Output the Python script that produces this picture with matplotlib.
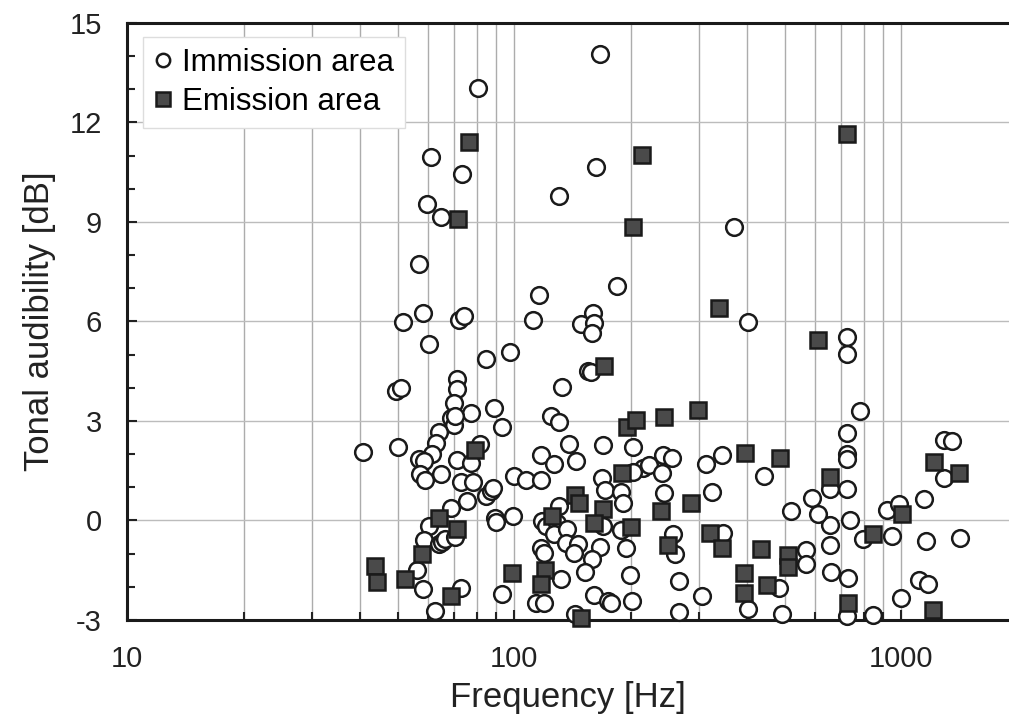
import matplotlib.pyplot as plt
from matplotlib.ticker import FixedLocator, MultipleLocator, NullFormatter

plt.rcParams["font.family"] = ["Liberation Sans", "DejaVu Sans"]
plt.rcParams["axes.unicode_minus"] = False

# Immission area (open circles)
imm_freq = [80.8, 61.1, 73.5, 59.6, 64.7, 56.7, 58.2, 51.7, 72.0, 74.2, 60.2, 84.5, 97.5,
            49.4, 50.9, 71.2, 71.2, 69.9, 77.2, 88.8, 92.9, 68.6, 69.9, 70.5, 63.9, 63.0,
            81.6, 40.6, 50.1, 61.2, 56.7, 58.4, 71.4, 77.2, 57.2, 58.9, 64.9, 72.8, 78.5,
            84.5, 87.1, 88.3, 100, 75.7, 68.6, 89.3, 89.6, 99.1, 60.2, 58.4, 63.9, 65.1,
            66.5, 70.5, 56.1, 58.1, 72.8, 62.4, 93,
            166.7, 162.4, 130.8, 184, 116.1, 160.2, 112.2, 148.9, 161.2, 159, 155, 158,
            133.4, 124.5, 130.3, 138.8, 170.1, 202.5, 117.3, 126.9, 145, 242.3, 256.2,
            215, 222.8, 240.9, 202.5, 168.7, 172.1, 189, 190.9, 107.2, 117.3, 244.7,
            130.8, 118.4, 120.8, 129.5, 126.9, 137.4, 136.1, 145.9, 143, 169.3, 189,
            257.7, 261, 167.1, 194.7, 117.3, 119.3, 159, 132, 152.8, 199.3, 267.6, 113.8,
            119.3, 160.6, 174.5, 178.1, 201.5, 267.6, 143.9,
            369.8, 402, 723, 723, 783, 723, 723, 725, 723, 738, 661, 730, 723, 844, 998,
            1115, 1177, 1288, 1352, 1293, 1149, 1422, 1161, 918, 988, 950, 799, 655, 569,
            569, 655, 655, 590, 610, 521, 442, 314, 344, 325, 346, 485, 402, 493, 306]
imm_db = [13.05, 10.97, 10.46, 9.54, 9.15, 7.74, 6.27, 5.97, 6.03, 6.17, 5.32, 4.87, 5.07,
          3.9, 4.0, 4.27, 3.97, 3.55, 3.24, 3.39, 2.81, 3.09, 2.89, 3.14, 2.66, 2.34,
          2.32, 2.07, 2.23, 1.99, 1.86, 1.79, 1.82, 1.74, 1.39, 1.23, 1.41, 1.15, 1.17,
          0.75, 0.88, 0.98, 1.33, 0.58, 0.38, 0.08, -0.05, 0.15, -0.17, -0.59, -0.72, -0.64,
          -0.57, -0.49, -1.5, -2.06, -2.03, -2.73, -2.23,
          14.06, 10.67, 9.79, 7.06, 6.81, 6.27, 6.05, 5.93, 5.95, 5.65, 4.52, 4.48,
          4.02, 3.14, 2.96, 2.32, 2.27, 2.22, 1.97, 1.69, 1.79, 1.97, 1.89,
          1.59, 1.67, 1.42, 1.46, 1.27, 0.91, 0.86, 0.53, 1.23, 1.23, 0.83,
          0.43, -0.02, -0.17, -0.07, -0.42, -0.27, -0.67, -0.72, -0.97, -0.17, -0.29,
          -0.4, -1.02, -0.79, -0.82, -0.82, -0.97, -1.15, -1.76, -1.56, -1.63, -1.81, -2.5,
          -2.5, -2.25, -2.43, -2.48, -2.43, -2.75, -2.81,
          8.86, 5.97, 5.53, 5.03, 3.29, 2.64, 1.99, 1.86, 0.95, 0.0, -1.56, -1.73, -2.88, -2.85, -2.33,
          -1.8, -1.93, 2.44, 2.41, 1.29, 0.66, -0.52, -0.62, 0.33, 0.51, -0.47, -0.57, -0.75, -0.9,
          -1.3, 0.95, -0.15, 0.68, 0.21, 0.28, 1.33, 1.71, 1.96, 0.85, -0.37, -2.03, -2.68, -2.83, -2.28]

# Emission area (filled squares)
emi_freq = [76.4, 71.5, 79.3, 63.9, 71.2, 57.7, 43.6, 44.2, 52.4, 68.6, 98.6,
            213.6, 202.5, 171.1, 196, 206.7, 244.7, 298.5, 189.7, 143.9, 147.4, 169.3,
            239.9, 286, 125.7, 161.2, 200, 249.6, 120.3, 117.3, 148.9,
            726, 338.2, 608.4, 730, 1213, 1220, 1416, 1008, 844.6, 510.5, 510.5, 488,
            394.4, 320, 345, 435.5, 392, 392, 450.4, 654.8]
emi_db = [11.4, 9.1, 2.12, 0.08, -0.25, -1.02, -1.38, -1.86, -1.76, -2.28, -1.58,
          11.02, 8.85, 4.65, 2.82, 3.04, 3.12, 3.34, 1.44, 0.78, 0.53, 0.35,
          0.3, 0.53, 0.13, -0.07, -0.2, -0.74, -1.5, -1.93, -2.93,
          11.66, 6.41, 5.43, -2.5, -2.7, 1.76, 1.42, 0.21, -0.42, -1.05, -1.4, 1.89,
          2.02, -0.37, -0.82, -0.85, -1.58, -2.2, -1.96, 1.31]

fig = plt.figure(figsize=(10.09, 7.16), dpi=100)
ax = fig.add_axes([0.1259, 0.1341, 0.8741, 0.8338])

ax.plot(imm_freq, imm_db, "o", ms=12, mfc="white", mec="#1a1a1a", mew=1.8,
        ls="none", clip_on=False, zorder=3, label="Immission area")
ax.plot(emi_freq, emi_db, "s", ms=12, mfc="#4a4a4a", mec="#1a1a1a", mew=1.8,
        ls="none", clip_on=False, zorder=4, label="Emission area")

ax.set_xscale("log")
ax.set_xlim(10, 1901)
ax.set_ylim(-3, 15)

ax.xaxis.set_major_locator(FixedLocator([10, 100, 1000]))
ax.xaxis.set_minor_locator(FixedLocator([m * d for d in (10, 100) for m in range(2, 10)]))
ax.xaxis.set_minor_formatter(NullFormatter())
ax.set_xticklabels(["10", "100", "1000"])
ax.yaxis.set_major_locator(MultipleLocator(3))
ax.yaxis.set_minor_locator(MultipleLocator(1))

ax.grid(True, which="major", axis="y", color="#bcbcbc", lw=1.0)
ax.grid(True, which="both", axis="x", color="#acacac", lw=1.0)
ax.set_axisbelow(True)

ax.tick_params(which="both", direction="in", top=False, right=False, width=1.5,
               color="#222222", labelsize=21, pad=18, labelcolor="#222222")
ax.tick_params(which="major", length=7)
ax.tick_params(which="minor", length=6)

for side in ("left", "bottom", "top"):
    ax.spines[side].set_linewidth(2.2)
    ax.spines[side].set_color("#1a1a1a")
ax.spines["right"].set_visible(False)

ax.set_xlabel("Frequency [Hz]", fontsize=25, labelpad=6, color="#222222")
ax.set_ylabel("Tonal audibility [dB]", fontsize=25, labelpad=10, color="#222222")

leg = ax.legend(loc="upper left", bbox_to_anchor=(0.018, 0.977), borderaxespad=0,
                fontsize=22.5, markerscale=0.8, handlelength=0.6, handletextpad=0.3,
                borderpad=0.35, labelspacing=0.3, fancybox=False, framealpha=1)
leg.get_frame().set_edgecolor("#dddddd")
leg.get_frame().set_linewidth(1.0)

fig.savefig("out.png", dpi=100)
